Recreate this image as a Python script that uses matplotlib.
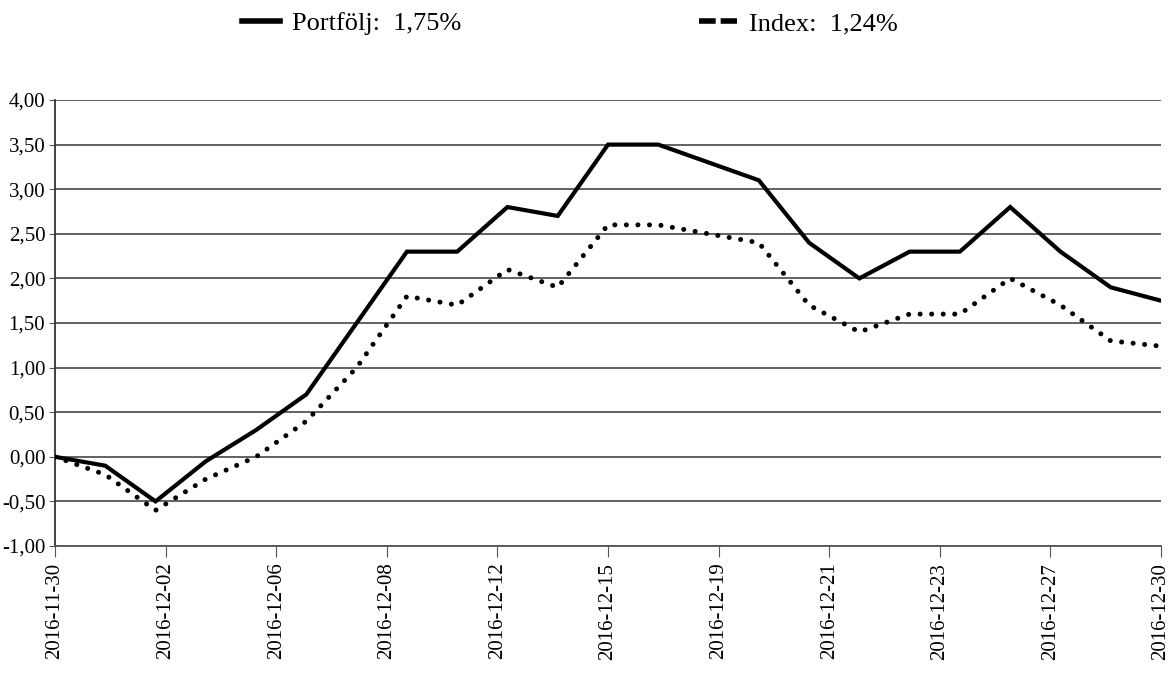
import matplotlib
matplotlib.use("Agg")
import matplotlib.pyplot as plt
from matplotlib.lines import Line2D
import numpy as np

# data (avkastning i %)
dates = ["2016-11-30", "2016-12-01", "2016-12-02", "2016-12-05", "2016-12-06",
         "2016-12-07", "2016-12-08", "2016-12-09", "2016-12-12", "2016-12-13",
         "2016-12-14", "2016-12-15", "2016-12-16", "2016-12-19", "2016-12-20",
         "2016-12-21", "2016-12-22", "2016-12-23", "2016-12-26", "2016-12-27",
         "2016-12-28", "2016-12-29", "2016-12-30"]
portfolj = [0.00, -0.10, -0.50, -0.05, 0.30, 0.70, 1.50, 2.30, 2.30, 2.80,
            2.70, 3.50, 3.50, 3.30, 3.10, 2.40, 2.00, 2.30, 2.30, 2.80,
            2.30, 1.90, 1.75]
index = [0.00, -0.20, -0.60, -0.25, 0.00, 0.40, 1.00, 1.80, 1.70, 2.10,
         1.90, 2.60, 2.60, 2.50, 2.40, 1.70, 1.40, 1.60, 1.60, 2.00,
         1.70, 1.30, 1.24]
tick_labels = ["2016-11-30", "2016-12-02", "2016-12-06", "2016-12-08", "2016-12-12",
               "2016-12-15", "2016-12-19", "2016-12-21", "2016-12-23", "2016-12-27",
               "2016-12-30"]
yticks = [-1.0, -0.5, 0.0, 0.5, 1.0, 1.5, 2.0, 2.5, 3.0, 3.5, 4.0]

plt.rcParams['font.family'] = ['Liberation Serif', 'DejaVu Serif']

fig = plt.figure(figsize=(11.7, 6.76), dpi=100)
ax = fig.add_axes([55/1170, 1 - 546/676, 1106/1170, 446/676])

x = np.arange(len(dates))
ax.plot(x, portfolj, color='black', lw=3.0, solid_joinstyle='miter', zorder=3)
ax.plot(x, index, color='black', lw=3.6, linestyle=(0, (0.01, 2.3)),
        dash_capstyle='round', zorder=3)

ax.set_xlim(0, len(dates) - 1)
ax.set_ylim(-1, 4)
ax.set_yticks(yticks)
ax.set_yticklabels([f"{v:.2f}".replace('.', ',') for v in yticks], fontsize=15)
ax.set_xticks(np.linspace(0, len(dates) - 1, len(tick_labels)))
ax.set_xticklabels(tick_labels, rotation=90, fontsize=15)
ax.grid(axis='y', color='#555555', lw=1.3)
ax.tick_params(axis='x', length=8, color='#555555', pad=4)
ax.tick_params(axis='y', length=4, color='#555555', pad=3)

for s in ['top', 'right']:
    ax.spines[s].set_visible(False)
ax.spines['left'].set_color('#333333')
ax.spines['bottom'].set_color('#555555')
ax.spines['left'].set_linewidth(1.3)
ax.spines['bottom'].set_linewidth(1.3)

handles = [Line2D([], [], color='black', lw=4),
           Line2D([], [], color='black', lw=4, linestyle=(0, (3.0, 0.9)))]
labels = ["Portfölj:  " + f"{portfolj[-1]:.2f}".replace('.', ',') + "%",
          "Index:  " + f"{index[-1]:.2f}".replace('.', ',') + "%"]
fig.legend(handles, labels, loc='upper center', bbox_to_anchor=(0.487, 1.018),
           ncol=2, frameon=False, fontsize=19, handlelength=1.45,
           handletextpad=0.45, columnspacing=9.0)

fig.savefig("out.png", dpi=100)
